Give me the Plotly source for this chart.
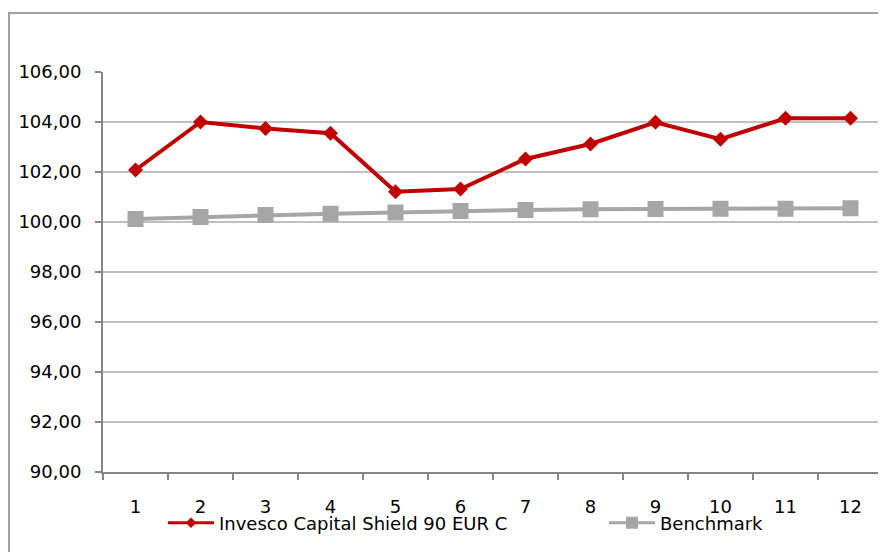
import plotly.graph_objects as go

categories = [str(i) for i in range(1, 13)]
fund_name = "Invesco Capital Shield 90 EUR C"
fund_values = [102.08, 104.00, 103.74, 103.55, 101.21, 101.32, 102.52, 103.12, 103.99, 103.31, 104.15, 104.15]
bench_name = "Benchmark"
bench_values = [100.12, 100.20, 100.28, 100.33, 100.38, 100.44, 100.48, 100.51, 100.52, 100.53, 100.53, 100.55]
y_ticks = [90, 92, 94, 96, 98, 100, 102, 104, 106]

RED = "#C00000"
GREY = "#A6A6A6"
W, H = 886, 552
# page body has an 8px offset
ML, MR, MT, MB = 95, 11, 64, 88
PW, PH = W - ML - MR, H - MT - MB

fig = go.Figure()
fig.add_trace(go.Scatter(x=categories, y=fund_values, mode="lines+markers", name=fund_name,
                         line=dict(color=RED, width=4), marker=dict(symbol="diamond", size=11.5, color=RED),
                         showlegend=False))
fig.add_trace(go.Scatter(x=categories, y=bench_values, mode="lines+markers", name=bench_name,
                         line=dict(color=GREY, width=4), marker=dict(symbol="square", size=16, color=GREY),
                         showlegend=False))
# legend entries
fig.add_trace(go.Scatter(x=[None], y=[None], mode="lines+markers", name=fund_name,
                         line=dict(color=RED, width=3), marker=dict(symbol="diamond", size=8, color=RED),
                         legend="legend"))
fig.add_trace(go.Scatter(x=[None], y=[None], mode="lines+markers", name=bench_name,
                         line=dict(color=GREY, width=3), marker=dict(symbol="square", size=12, color=GREY),
                         legend="legend2"))

font = dict(family="DejaVu Sans", size=18, color="#000000")
leg_common = dict(orientation="h", xref="container", yref="container", xanchor="left", yanchor="middle",
                  bgcolor="rgba(0,0,0,0)", borderwidth=0, font=font, itemwidth=46)

fig.update_layout(
    width=W, height=H,
    margin=dict(l=ML, r=MR, t=MT, b=MB, autoexpand=False),
    paper_bgcolor="white", plot_bgcolor="white",
    font=font,
    separators=", ",
    legend=dict(x=155 / W, y=1 - 515 / H, **leg_common),
    legend2=dict(x=596 / W, y=1 - 515 / H, **leg_common),
    xaxis=dict(type="category", categoryorder="array", categoryarray=categories,
               range=[-0.5, len(categories) - 0.5],
               showgrid=False, showline=True, linecolor="#868686", linewidth=2,
               ticks="outside", ticklen=6, tickwidth=2, tickcolor="#868686", tickson="boundaries",
               ticklabelstandoff=17, zeroline=False, automargin=False),
    yaxis=dict(range=[90, 106], tickvals=y_ticks, tickformat=".2f",
               showgrid=True, gridcolor="#C0C0C0", gridwidth=1.5,
               showline=True, linecolor="#868686", linewidth=2,
               ticks="outside", ticklen=6, tickwidth=2, tickcolor="#868686",
               ticklabelstandoff=10, zeroline=False, automargin=False),
    shapes=[dict(type="rect", xref="paper", yref="paper",
                 x0=-(ML - 1) / PW, x1=1.2,
                 y0=-0.3, y1=1 + (MT - 5) / PH,
                 line=dict(color="#A0A0A0", width=2), fillcolor="rgba(0,0,0,0)", layer="below")],
)

fig.write_html("out.html")
